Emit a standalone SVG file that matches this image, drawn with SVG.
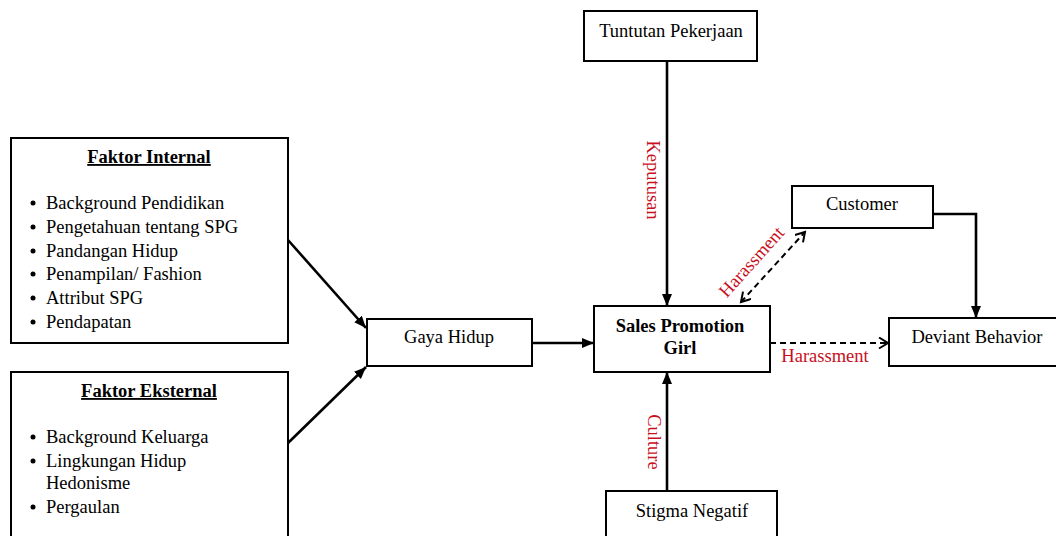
<svg xmlns="http://www.w3.org/2000/svg" width="1056" height="536" viewBox="0 0 1056 536">
<defs>
<style>
.box{fill:#fff;stroke:#000;stroke-width:2}
.t{font-family:"Liberation Serif","Times New Roman",serif;font-size:18.5px;fill:#000}
.b{font-weight:bold}
.u{text-decoration:underline}
.red{font-family:"Liberation Serif","Times New Roman",serif;font-size:18.5px;fill:#c8101e}
.solid{stroke:#000;stroke-width:2.6;fill:none}
.dash{stroke:#000;stroke-width:2;fill:none;stroke-dasharray:6 4}
</style>
<marker id="fa" markerUnits="userSpaceOnUse" markerWidth="14" markerHeight="12" refX="12" refY="5" orient="auto">
<path d="M0,0 L12,5 L0,10 z" fill="#000"/>
</marker>
<marker id="oa" markerUnits="userSpaceOnUse" markerWidth="14" markerHeight="14" refX="10" refY="6" orient="auto-start-reverse">
<path d="M1,0.5 L10,6 L1,11.5" fill="none" stroke="#000" stroke-width="2"/>
</marker>
</defs>
<rect width="1056" height="536" fill="#fff"/>

<g id="connectors">
<line class="solid" x1="288" y1="240" x2="366" y2="328" marker-end="url(#fa)"/>
<line class="solid" x1="288" y1="443" x2="366" y2="367" marker-end="url(#fa)"/>
<line class="solid" x1="532" y1="343" x2="594" y2="343" marker-end="url(#fa)"/>
<line class="solid" x1="667" y1="61" x2="667" y2="306" marker-end="url(#fa)"/>
<line class="solid" x1="667" y1="491" x2="667" y2="372" marker-end="url(#fa)"/>
<polyline class="solid" points="933,214 976,214 976,318" marker-end="url(#fa)"/>
<line class="dash" x1="741" y1="302" x2="805" y2="232" marker-start="url(#oa)" marker-end="url(#oa)"/>
<line class="dash" x1="770" y1="343" x2="888" y2="343" marker-end="url(#oa)"/>
<text class="red" transform="translate(647,180) rotate(90)" text-anchor="middle">Keputusan</text>
<text class="red" transform="translate(648,442) rotate(90)" text-anchor="middle">Culture</text>
<text class="red" transform="translate(756,266) rotate(-48)" text-anchor="middle">Harassment</text>
<text class="red" x="825" y="362" text-anchor="middle">Harassment</text>
</g>

<g id="faktor-internal">
<rect class="box" x="11" y="138" width="277" height="205"/>
<text class="t b u" x="149" y="163" text-anchor="middle" font-size="19">Faktor Internal</text>
<g class="t">
<circle cx="33" cy="203" r="2.5"/><text x="46" y="209">Background Pendidikan</text>
<circle cx="33" cy="227" r="2.5"/><text x="46" y="233">Pengetahuan tentang SPG</text>
<circle cx="33" cy="251" r="2.5"/><text x="46" y="257">Pandangan Hidup</text>
<circle cx="33" cy="274" r="2.5"/><text x="46" y="280">Penampilan/ Fashion</text>
<circle cx="33" cy="298" r="2.5"/><text x="46" y="304">Attribut SPG</text>
<circle cx="33" cy="322" r="2.5"/><text x="46" y="328">Pendapatan</text>
</g>
</g>

<g id="faktor-eksternal">
<rect class="box" x="11" y="372" width="277" height="180"/>
<text class="t b u" x="149" y="397" text-anchor="middle" font-size="19">Faktor Eksternal</text>
<g class="t">
<circle cx="33" cy="437" r="2.5"/><text x="46" y="443">Background Keluarga</text>
<circle cx="33" cy="461" r="2.5"/><text x="46" y="467">Lingkungan Hidup</text>
<text x="46" y="489">Hedonisme</text>
<circle cx="33" cy="507" r="2.5"/><text x="46" y="513">Pergaulan</text>
</g>
</g>

<g id="tuntutan">
<rect class="box" x="584" y="11" width="173" height="50"/>
<text class="t" x="671" y="37" text-anchor="middle">Tuntutan Pekerjaan</text>
</g>

<g id="gaya-hidup">
<rect class="box" x="367" y="319" width="165" height="47"/>
<text class="t" x="449" y="343" text-anchor="middle">Gaya Hidup</text>
</g>

<g id="spg">
<rect class="box" x="594" y="306" width="176" height="66"/>
<text class="t b" x="680" y="332" text-anchor="middle" font-size="19">Sales Promotion</text>
<text class="t b" x="680" y="354" text-anchor="middle" font-size="19">Girl</text>
</g>

<g id="customer">
<rect class="box" x="792" y="186" width="141" height="42"/>
<text class="t" x="862" y="210" text-anchor="middle">Customer</text>
</g>

<g id="deviant">
<rect class="box" x="889" y="318" width="170" height="48"/>
<text class="t" x="977" y="343" text-anchor="middle">Deviant Behavior</text>
</g>

<g id="stigma">
<rect class="box" x="606" y="491" width="171" height="60"/>
<text class="t" x="692" y="517" text-anchor="middle">Stigma Negatif</text>
</g>
</svg>
